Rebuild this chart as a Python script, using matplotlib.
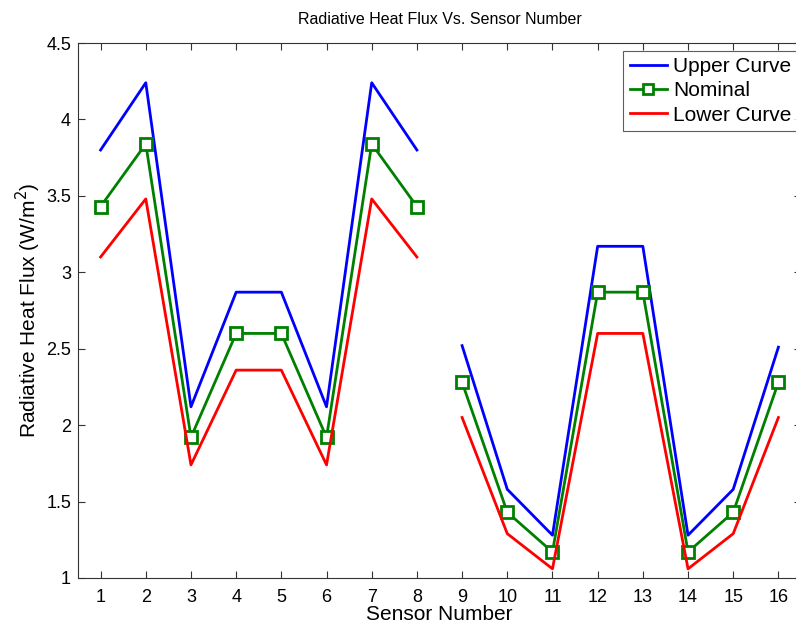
import numpy as np
import matplotlib
matplotlib.use("Agg")
from matplotlib import pyplot as plt

plt.rcParams['font.family'] = ['Liberation Sans', 'DejaVu Sans']

sensors = np.arange(1, 17)
# nan between sensor 8 and 9 leaves the gap
upper = [3.80, 4.24, 2.12, 2.87, 2.87, 2.12, 4.24, 3.80,
         2.52, 1.58, 1.28, 3.17, 3.17, 1.28, 1.58, 2.51]
nominal = [3.43, 3.84, 1.92, 2.60, 2.60, 1.92, 3.84, 3.43,
           2.28, 1.43, 1.17, 2.87, 2.87, 1.17, 1.43, 2.28]
lower = [3.10, 3.48, 1.74, 2.36, 2.36, 1.74, 3.48, 3.10,
         2.05, 1.29, 1.06, 2.60, 2.60, 1.06, 1.29, 2.05]

def split(vals):
    x = np.concatenate([sensors[:8], [np.nan], sensors[8:]])
    y = np.concatenate([vals[:8], [np.nan], vals[8:]])
    return x, y

fig = plt.figure(figsize=(7.96, 6.28), dpi=100)
# axes runs a bit past the right edge, like the reference crop
ax = fig.add_axes([78/796, 50/628, 723/796, 535/628])

x, y = split(upper)
ax.plot(x, y, color=(0, 0, 1), lw=2, label='Upper Curve')
x, y = split(nominal)
ax.plot(x, y, color=(0, 0.5, 0), lw=2, marker='s', ms=9, mfc='white',
        mew=2, label='Nominal')
x, y = split(lower)
ax.plot(x, y, color=(1, 0, 0), lw=2, label='Lower Curve')

ax.set_xlim(0.5, 16.5)
ax.set_ylim(1, 4.5)
ax.set_xticks(sensors)
ax.set_yticks(np.arange(1, 4.6, 0.5))
ax.set_yticklabels(['1', '1.5', '2', '2.5', '3', '3.5', '4', '4.5'])
ax.tick_params(direction='in', top=True, right=True, labelsize=13,
               length=5, color='#333333')
ax.tick_params(axis='x', pad=8)
ax.tick_params(axis='y', pad=5)
for s in ax.spines.values():
    s.set_color('#333333')

ax.set_title('Radiative Heat Flux Vs. Sensor Number', fontsize=11.5, pad=14)
ax.set_xlabel('Sensor Number', fontsize=15, labelpad=-1)
ax.set_ylabel('Radiative Heat Flux (W/m$^2$)', fontsize=15, labelpad=2)

leg = ax.legend(loc='upper right', fontsize=15, fancybox=False,
                bbox_to_anchor=(1 - 3/723, 1 - 8/535), borderaxespad=0,
                handlelength=1.8, handletextpad=0.3,
                labelspacing=0.25, borderpad=0.3)
leg.get_frame().set_edgecolor('#333333')
leg.get_frame().set_linewidth(0.8)
leg.legend_handles[1].set_markersize(7)

fig.savefig('out.png', dpi=100)
